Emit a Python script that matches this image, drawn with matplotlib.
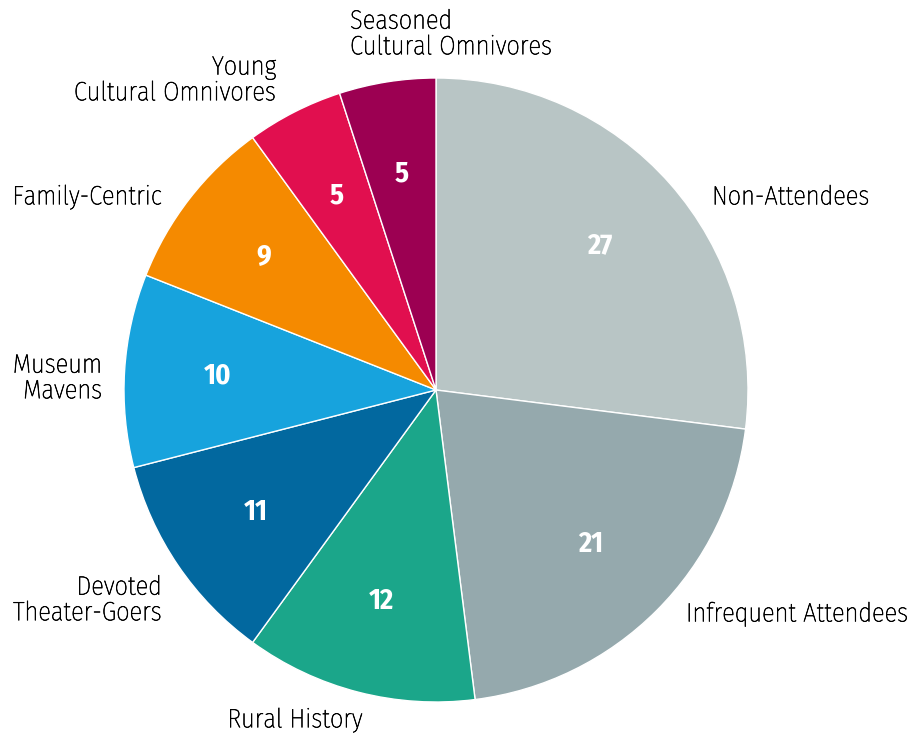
import matplotlib
matplotlib.use("Agg")
import matplotlib.pyplot as plt
import matplotlib.patheffects as pe
from matplotlib import font_manager

# Segment shares (percent) and styling
segments = ["Non-Attendees", "Infrequent Attendees", "Rural History",
            "Devoted Theater-Goers", "Museum Mavens", "Family-Centric",
            "Young Cultural Omnivores", "Seasoned Cultural Omnivores"]
shares = [27, 21, 12, 11, 10, 9, 5, 5]
colors = ["#b8c5c5", "#95a9ad", "#1ba68a", "#02689f", "#17a3dd",
          "#f58a00", "#e10f4f", "#9c0052"]

# Outer label text with position (pixels from top-left) and alignment
label_text = ["Non-Attendees", "Infrequent Attendees", "Rural History",
              "Devoted\nTheater-Goers", "Museum\nMavens", "Family-Centric",
              "Young\nCultural Omnivores", "Seasoned\nCultural Omnivores"]
label_xy = [(712, 197), (686, 614), (295, 720), (162, 600), (102, 378),
            (162, 197), (276, 80), (350, 34)]
label_ha = ["left", "left", "center", "right", "right", "right", "right", "left"]

available = {f.name for f in font_manager.fontManager.ttflist}
family = "DejaVu Sans"
for cand in ["Fira Sans Condensed", "Open Sans", "DejaVu Sans"]:
    if cand in available:
        family = cand
        break

W, H = 913, 737
fig = plt.figure(figsize=(W / 100, H / 100), dpi=100)
ax = fig.add_axes([0, 0, 1, 1])

cx, cy, r = 436, H - 390, 312

wedges, _, autotexts = ax.pie(
    shares, colors=colors, startangle=90, counterclock=False,
    center=(cx, cy), radius=r, frame=True,
    autopct=lambda p: f"{p:.0f}", pctdistance=0.70,
    wedgeprops=dict(edgecolor="white", linewidth=1.0),
    textprops=dict(color="white", fontsize=20.5, fontweight="bold",
                   family=family))
ax.set_xlim(0, W)
ax.set_ylim(0, H)
ax.set_aspect("equal")
ax.axis("off")

# slightly heavier strokes on the light face
thicken = [pe.Stroke(linewidth=0.45, foreground="#000000"), pe.Normal()]
for txt, (x, y), ha in zip(label_text, label_xy, label_ha):
    ax.text(x, H - y, txt, ha=ha, va="center", fontsize=19,
            fontweight="light", color="#000000", family=family,
            linespacing=1.05, path_effects=thicken)

fig.savefig("out.png", dpi=100, facecolor="white")
